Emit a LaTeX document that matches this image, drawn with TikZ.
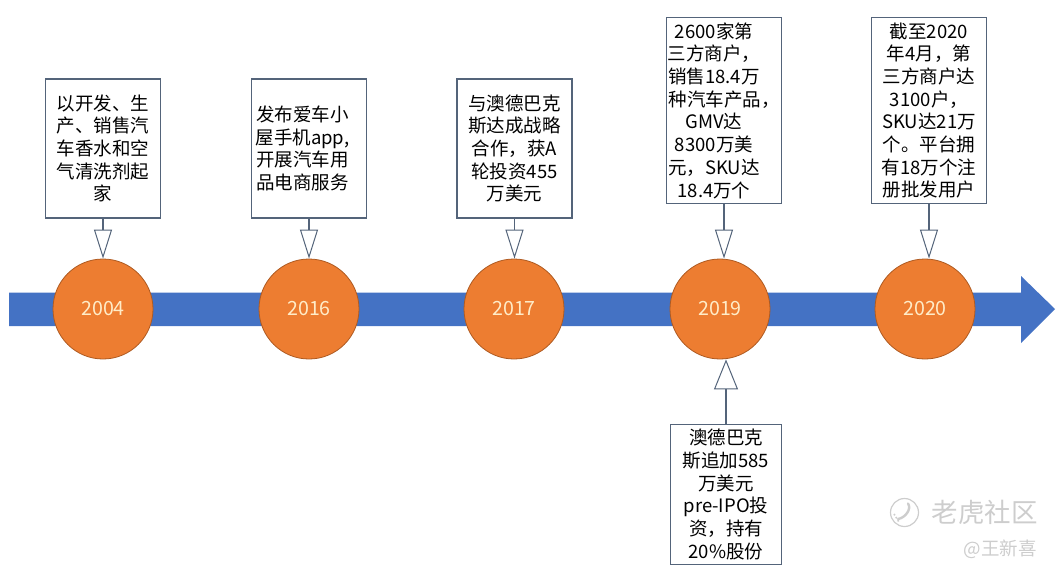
\documentclass[tikz,border=0pt]{standalone}
\usepackage{fontspec}
\setmainfont{Noto Sans CJK SC}
\usetikzlibrary{arrows.meta}

% trailing room, pushes a centred line to the left
\newcommand{\pushleft}[1]{\rule{#1}{0pt}}

\tikzset{
    yearnode/.style={circle, draw=circleedge, line width=0.8pt, fill=circleorange, minimum size=100pt, inner sep=0pt,
        text=yeartext, font=\fontsize{19.6}{22}\selectfont},
    eventbox/.style={draw=boxedge, line width=1.1pt, fill=white, inner sep=0pt, align=center, text=black,
        minimum width=115pt, font=\fontsize{18.5}{22.7}\selectfont},
    callout/.style={draw=boxedge, line width=1.6pt,
        -{Triangle[open, fill=white, length=29pt, width=18pt, line width=1pt]}},
}

\begin{document}
\begin{tikzpicture}[x=1pt, y=-1pt]
        \definecolor{barblue}{RGB}{68,114,196}
        \definecolor{circleorange}{RGB}{237,125,49}
        \definecolor{circleedge}{RGB}{174,90,33}
        \definecolor{yeartext}{RGB}{255,236,200}
        \definecolor{boxedge}{RGB}{84,100,122}
        \definecolor{markgray}{RGB}{205,205,205}

        \useasboundingbox (0,0) rectangle (1058,574);

        % Draw the time bar
        \fill[barblue] (9,292.5) -- (1021,292.5) -- (1021,276) -- (1055,309) -- (1021,343) -- (1021,326) -- (9,326) -- cycle;

        % Years on the bar
        \node[yearnode] (y2004) at (103,309) {2004};
        \node[yearnode] (y2016) at (309,309) {2016};
        \node[yearnode] (y2017) at (514,309) {2017};
        \node[yearnode] (y2019) at (720,309) {2019};
        \node[yearnode] (y2020) at (925,309) {2020};

        % Boxes above the bar
        \node[eventbox, minimum height=139pt] (b2004) at (103,148.5) {以开发、生\\产、销售汽\\车香水和空\\气清洗剂起\\家};
        \node[eventbox, minimum height=139pt] (b2016) at (309,148.5) {发布爱车小\pushleft{13pt}\\屋手机app,\pushleft{13pt}\\开展汽车用\pushleft{13pt}\\品电商服务\pushleft{13pt}};
        \node[eventbox, minimum height=139pt] (b2017) at (514.5,148.5) {与澳德巴克\\斯达成战略\\合作，获A\\轮投资455\\万美元};
        \node[eventbox, minimum height=186pt] (b2019) at (724,110.5) {2600家第\pushleft{20pt}\\三方商户，\pushleft{20pt}\\销售18.4万\pushleft{20pt}\\种汽车产品，\\GMV达\pushleft{20pt}\\8300万美\pushleft{20pt}\\元，SKU达\pushleft{20pt}\\18.4万个\pushleft{20pt}};
        \node[eventbox, minimum height=186pt] (b2020) at (929,110.5) {截至2020\\年4月，第\\三方商户达\\3100户，\\SKU达21万\\个。平台拥\\有18万个注\\册批发用户};

        % Box below the bar
        \node[eventbox, minimum width=111pt, minimum height=140pt] (b2019low) at (726,494.5) {澳德巴克\\斯追加585\\万美元\\pre-IPO投\\资，持有\\20\%股份};

        % Callouts from the boxes to the years
        \draw[callout] (b2004.south) -- (y2004.north);
        \draw[callout] (b2016.south) -- (y2016.north);
        \draw[callout] (b2017.south) -- (b2017.south |- y2017.north);
        \draw[callout] (b2019.south) -- (b2019.south |- y2019.north);
        \draw[callout] (b2020.south) -- (b2020.south |- y2020.north);
        \draw[draw=boxedge, line width=1.6pt, -{Triangle[open, fill=white, length=30pt, width=24pt, line width=1pt]}]
            (b2019low.north) -- (b2019low.north |- y2019.south);

        % Watermark
        \draw[markgray, line width=1.2pt] (904.5,512.5) circle (14);
        \draw[markgray, line width=2.4pt, line cap=round] (908,503.5) .. controls (912,509) and (905,518) .. (898,519);
        \draw[markgray, line width=1.6pt, dotted] (894,514) -- (899,522);
        \node[text=markgray, font=\fontsize{26.5}{28}\selectfont] (marktitle) at (984.5,512) {老虎社区};
        \node[text=markgray, font=\fontsize{18.5}{20}\selectfont] (markname) at (1000,549) {@王新喜};
    \end{tikzpicture}
\end{document}
